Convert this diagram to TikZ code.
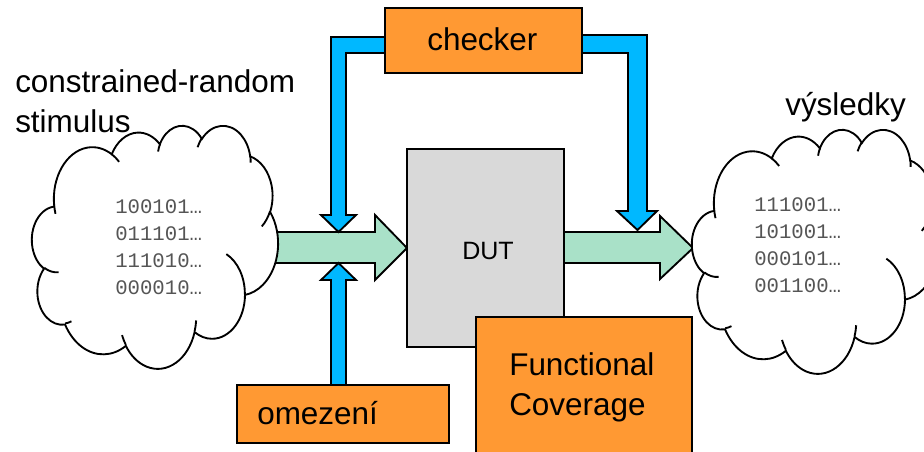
\documentclass[tikz,border=0pt]{standalone}
\usepackage{fontspec}
\setmainfont{Liberation Sans}
\newfontfamily\digitfont{Liberation Mono}
\definecolor{orng}{HTML}{FF9933}
\definecolor{skyb}{HTML}{00B8FF}
\definecolor{mint}{HTML}{A9E1C8}
\definecolor{dutgray}{HTML}{D9D9D9}
\definecolor{digitgray}{HTML}{555555}
% elliptical arc given by visual start angle and sweep (radii wR, hR)
\newcommand\ooarc[4]{arc[x radius=#1, y radius=#2,
  start angle={atan2(#1*sin(#3),#2*cos(#3))},
  delta angle={mod(atan2(#1*sin(#3+#4),#2*cos(#3+#4))-atan2(#1*sin(#3),#2*cos(#3))+720,360)}]}
\newcommand\cloudoutline{%
  \draw[outl,fill=white] (39.00,143.70)
    \ooarc{67.53}{91.90}{-190.48748}{123.78053}
    \ooarc{53.33}{72.67}{-144.10238}{89.94523}
    \ooarc{43.65}{59.45}{-145.80792}{99.72302}
    \ooarc{48.57}{65.95}{-130.98607}{117.24173}
    \ooarc{53.33}{72.73}{-78.70888}{109.02692}
    \ooarc{67.75}{92.20}{-46.26725}{130.26900}
    \ooarc{57.85}{78.67}{0.62502}{114.03333}
    \ooarc{67.52}{92.15}{22.45160}{115.17255}
    \ooarc{77.20}{105.43}{66.24263}{75.71102}
    \ooarc{43.60}{59.18}{-274.94208}{146.73557}
    \ooarc{43.45}{59.45}{-246.82850}{152.51885}
    -- cycle;
  \draw[outl]
    (46.93,261.77) \ooarc{43.45}{59.45}{86.74200}{26.42950}
    (69.28,348.99) \ooarc{43.60}{59.18}{73.61047}{11.44747}
    (164.78,390.90) \ooarc{67.52}{92.15}{137.62415}{14.08110}
    (288.27,347.51) \ooarc{67.52}{92.15}{6.45327}{15.99835}
    (341.29,229.54) \ooarc{57.85}{78.67}{-70.29235}{70.91737}
    (417.98,153.54) \ooarc{53.33}{72.73}{30.31803}{27.75150}
    (383.24,54.26) \ooarc{48.57}{65.95}{-13.74433}{14.85890}
    (290.78,39.52) \ooarc{48.57}{65.95}{-149.18145}{18.19537}
    (221.41,47.20) \ooarc{43.65}{59.45}{-163.49427}{17.68635}
    (140.00,51.92) \ooarc{67.53}{91.90}{-66.70695}{12.31935}
    (41.27,157.89) \ooarc{67.53}{91.90}{157.65435}{11.85817};}
\begin{document}
\begin{tikzpicture}[x=0.75pt,y=-0.75pt,line join=miter,
  outl/.style={draw=black,line width=1.4pt},
  greenarrow/.style={outl,fill=mint},
  bluearrow/.style={outl,fill=skyb},
  obox/.style={outl,fill=orng,inner sep=0pt,outer sep=0pt},
  lbl/.style={font=\fontsize{23.6pt}{29.6pt}\selectfont,inner sep=0pt,anchor=base west,align=left},
  digits/.style={font=\digitfont\fontsize{15.5pt}{20.25pt}\selectfont,text=digitgray,inner sep=0pt,anchor=base west,align=left}]
\useasboundingbox (0,0) rectangle (924,451);

% green block arrows
\draw[greenarrow] (250,232) -- (375,232) -- (375,215) -- (407,248) -- (375,280) -- (375,263) -- (250,263) -- cycle;
\draw[greenarrow] (564,232) -- (660,232) -- (660,216) -- (693,248) -- (660,279) -- (660,263) -- (564,263) -- cycle;

% clouds (drawn shapes)
\begin{scope}[shift={(32,125)},x=0.42708pt,y=-0.421875pt]
  \cloudoutline
\end{scope}
\begin{scope}[shift={(692,129)},x=0.42708pt,y=-0.42361pt]
  \cloudoutline
\end{scope}

% blue block arrows
\draw[bluearrow] (390,37) -- (331,37) -- (331,215) -- (321,215) -- (338.5,232) -- (356,215) -- (346,215) -- (346,53) -- (390,53) -- cycle;
\draw[bluearrow] (578,35) -- (647,35) -- (647,211) -- (657,211) -- (637.5,230) -- (617,211) -- (628,211) -- (628,53) -- (578,53) -- cycle;
\draw[bluearrow] (331,390) -- (331,280) -- (321,280) -- (338.5,263) -- (356,280) -- (346,280) -- (346,390) -- cycle;

% boxes
\node[obox,minimum width=147.75pt,minimum height=48.75pt] (checker) at (483.5,40.5) {};
\node[outl,fill=dutgray,inner sep=0pt,minimum width=117.75pt,minimum height=148.5pt] (dut) at (485.5,248) {};
\node[obox,minimum width=162pt,minimum height=107.25pt] (fc) at (584,388.5) {};
\node[obox,minimum width=159pt,minimum height=43.5pt] (omez) at (343,414) {};

% texts
\node[lbl] (checkertxt) at (427,50) {checker};
\node[lbl,font=\fontsize{18.8pt}{22pt}\selectfont] (duttxt) at (462,259) {DUT};
\node[lbl] (fctxt) at (509,415) {Functional\\Coverage};
\node[lbl] (omeztxt) at (257,424) {omezení};
\node[lbl] (stimtxt) at (15,132) {constrained-random\\stimulus};
\node[lbl] (vystxt) at (785,115) {výsledky};

\node[digits] (indig) at (115,294) {100101…\\011101…\\111010…\\000010…};
\node[digits] (outdig) at (754,292) {111001…\\101001…\\000101…\\001100…};
\end{tikzpicture}
\end{document}
